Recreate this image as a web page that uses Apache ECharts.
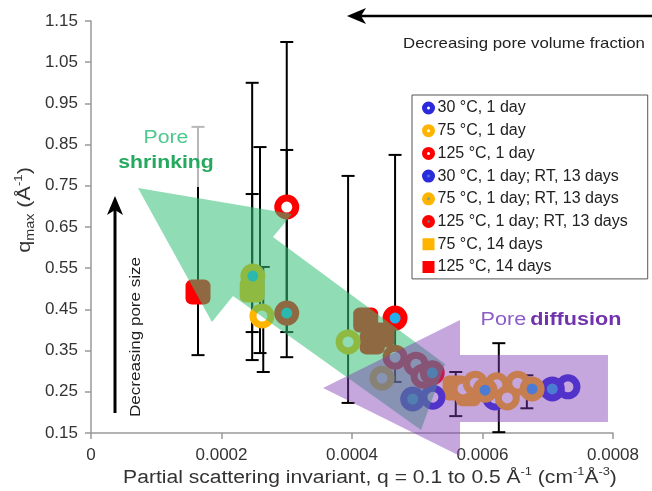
<!DOCTYPE html>
<html><head><meta charset="utf-8">
<script src="https://cdn.jsdelivr.net/npm/echarts@6/dist/echarts.min.js"></script>
<style>html,body{margin:0;padding:0;background:#fff}#c{width:652px;height:491px}</style>
</head><body><div id="c"></div>
<script>
// ---------- data ----------
const seriesNames = ['30 °C, 1 day','75 °C, 1 day','125 °C, 1 day','30 °C, 1 day; RT, 13 days','75 °C, 1 day; RT, 13 days','125 °C, 1 day; RT, 13 days','75 °C, 14 days','125 °C, 14 days'];
const blue1dX = [0.000524, 0.000619, 0.000731];
const blue1dY = [0.237, 0.235, 0.262];
const orange1dX = [0.000262, 0.000394, 0.000446, 0.000570, 0.000589, 0.000622, 0.000654, 0.000638];
const orange1dY = [0.434, 0.371, 0.283, 0.257, 0.271, 0.267, 0.271, 0.235];
const red1dX = [0.000300, 0.000466, 0.000498, 0.000509];
const red1dY = [0.6985, 0.334, 0.317, 0.288];
const blueRTX = [0.000493, 0.000707];
const blueRTY = [0.2325, 0.257];
const orangeRTX = [0.000248, 0.000604, 0.000676];
const orangeRTY = [0.531, 0.254, 0.257];
const redRTX = [0.000300, 0.000466, 0.000523];
const redRTY = [0.441, 0.429, 0.296];
const orange14X = [0.000247, 0.000558, 0.000578];
const orange14Y = [0.497, 0.259, 0.245];
const red14X = [0.000164, 0.000421, 0.000431, 0.000446];
const red14Y = [0.492, 0.424, 0.371, 0.388];
// error bars
const errX    = [0.000164, 0.000247, 0.000247, 0.000259, 0.000264, 0.000300, 0.000300, 0.000394, 0.000466, 0.000559, 0.000625, 0.000668];
const errHigh = [0.893, 1.000, 0.730, 0.844, 0.553, 1.099, 0.837, 0.774, 0.825, 0.298, 0.368, 0.290];
const errLow  = [0.339, 0.327, 0.395, 0.344, 0.298, 0.334, 0.395, 0.223, 0.274, 0.191, 0.152, 0.210];
// annotation arrows (data units)
const greenArrow = [[0.0000720,0.7447],[0.0003081,0.6816],[0.0002789,0.6257],[0.0005425,0.3175],[0.0005058,0.1573],[0.0002176,0.4825],[0.0001854,0.4194]];
const purpleArrow = [[0.0003556,0.2592],[0.0005655,0.4243],[0.0005655,0.3393],[0.0007923,0.3393],[0.0007923,0.1767],[0.0005655,0.1767],[0.0005655,0.0942]];
// axes
const xMin = 0, xMax = 0.0008, xStep = 0.0002;
const yMin = 0.15, yMax = 1.15, yStep = 0.1;

// ---------- styles ----------
const BLUE = '#2b2bdc', ORANGE = '#ffb400', RED = '#ff0000', CYAN = '#22b0ee';
const FONT = 'Liberation Sans';
const chart = echarts.init(document.getElementById('c'));
const pairs = (xs, ys) => xs.map((x, i) => [x, ys[i]]);
function ring(name, xs, ys, c, fill) {
  return { name, type: 'scatter', z: 5, silent: true, symbol: 'circle', symbolSize: 18,
    itemStyle: { color: fill, borderColor: c, borderWidth: 7, opacity: 1 },
    data: pairs(xs, ys) };
}
function square(name, xs, ys, c) {
  return { name, type: 'scatter', z: 5, silent: true, symbol: 'roundRect', symbolSize: 25,
    itemStyle: { color: c, opacity: 1 }, data: pairs(xs, ys) };
}
function poly(name, pts, fill, z) {
  return { name, type: 'custom', coordinateSystem: 'cartesian2d', z, silent: true, clip: false,
    data: [[0, 0.5]], encode: { x: 0, y: 1 },
    renderItem: (p, api) => ({ type: 'polygon', shape: { points: pts.map(q => api.coord(q)) }, style: { fill } }) };
}
const lg = (name, icon, color, border, bw) => ({ name, icon, itemStyle: { color, borderColor: border, borderWidth: bw } });

const option = {
  animation: false,
  grid: { left: 91, right: 39, top: 21, bottom: 58 },
  xAxis: { type: 'value', min: xMin, max: xMax, interval: xStep,
    axisLine: { lineStyle: { color: '#999', width: 1.5 } },
    axisTick: { show: true, length: 6, lineStyle: { color: '#999', width: 1.5 } },
    splitLine: { show: false },
    axisLabel: { margin: 14, fontFamily: FONT, fontSize: 17, color: '#333',
      formatter: v => v === 0 ? '0' : v.toFixed(4) } },
  yAxis: { type: 'value', min: yMin, max: yMax, interval: yStep,
    axisLine: { show: true, lineStyle: { color: '#999', width: 1.5 } },
    axisTick: { show: true, length: 6, lineStyle: { color: '#999', width: 1.5 } },
    splitLine: { show: false },
    axisLabel: { margin: 13, fontFamily: FONT, fontSize: 17, color: '#333', formatter: v => v.toFixed(2) } },
  legend: {
    orient: 'vertical', left: 412, top: 95, z: 20,
    padding: [5, 20, 4, 10], itemWidth: 8, itemHeight: 8, itemGap: 6.7,
    borderColor: '#555', borderWidth: 1, backgroundColor: '#fff',
    selectedMode: false,
    textStyle: { fontFamily: FONT, fontSize: 16, color: '#222', lineHeight: 16 },
    data: [
      lg(seriesNames[0], 'circle', '#fff', BLUE, 5),
      lg(seriesNames[1], 'circle', '#fff', ORANGE, 5),
      lg(seriesNames[2], 'circle', '#fff', RED, 5),
      lg(seriesNames[3], 'circle', '#3d7bd8', BLUE, 5),
      lg(seriesNames[4], 'circle', '#7f9f9a', ORANGE, 5),
      lg(seriesNames[5], 'circle', '#6d6d7a', RED, 5),
      lg(seriesNames[6], 'rect', ORANGE, ORANGE, 4),
      lg(seriesNames[7], 'rect', RED, RED, 4)
    ]
  },
  series: [
    { name: 'err', type: 'custom', z: 3, silent: true,
      data: errX.map((x, i) => [x, errLow[i], errHigh[i]]), encode: { x: 0, y: [1, 2] },
      renderItem: (p, api) => {
        const x = api.value(0), a = api.coord([x, api.value(1)]), b = api.coord([x, api.value(2)]), w = 6.5;
        const st = { stroke: '#000', lineWidth: 2 };
        return { type: 'group', children: [
          { type: 'line', shape: { x1: a[0], y1: a[1], x2: b[0], y2: b[1] }, style: st },
          { type: 'line', shape: { x1: a[0] - w, y1: a[1], x2: a[0] + w, y2: a[1] }, style: st },
          { type: 'line', shape: { x1: b[0] - w, y1: b[1], x2: b[0] + w, y2: b[1] }, style: st } ] };
      } },
    square(seriesNames[6], orange14X, orange14Y, ORANGE),
    square(seriesNames[7], red14X, red14Y, RED),
    ring(seriesNames[0], blue1dX, blue1dY, BLUE, '#fff'),
    ring(seriesNames[3], blueRTX, blueRTY, BLUE, CYAN),
    ring(seriesNames[1], orange1dX, orange1dY, ORANGE, '#fff'),
    ring(seriesNames[4], orangeRTX, orangeRTY, ORANGE, CYAN),
    ring(seriesNames[2], red1dX, red1dY, RED, '#fff'),
    ring(seriesNames[5], redRTX, redRTY, RED, CYAN),
    poly('shrink', greenArrow, 'rgba(51,191,120,0.55)', 10),
    poly('diffuse', purpleArrow, 'rgba(128,60,180,0.45)', 11)
  ],
  graphic: [
    { type: 'rect', z: 50, shape: { x: 116, y: 118, width: 100, height: 69 }, style: { fill: 'rgba(255,255,255,0.72)' } },
    { type: 'text', z: 60, x: 166, y: 138, scaleX: 1.18, style: { text: 'Pore', fontFamily: FONT, fontSize: 18, fill: '#4cc98c', align: 'center', verticalAlign: 'middle' } },
    { type: 'text', z: 60, x: 166, y: 163, scaleX: 1.18, style: { text: 'shrinking', fontFamily: FONT, fontSize: 18, fontWeight: 'bold', fill: '#25a95e', align: 'center', verticalAlign: 'middle' } },
    { type: 'text', z: 60, x: 551, y: 320, scaleX: 1.2, style: { text: '{a|Pore} {b|diffusion}', align: 'center', verticalAlign: 'middle',
      rich: { a: { fontFamily: FONT, fontSize: 18, fill: '#8d5cc6' }, b: { fontFamily: FONT, fontSize: 18, fontWeight: 'bold', fill: '#7133ad' } } } },
    { type: 'line', z: 60, shape: { x1: 360, y1: 16, x2: 660, y2: 16 }, style: { stroke: '#000', lineWidth: 2.5 } },
    { type: 'polygon', z: 60, shape: { points: [[347, 16], [366, 8], [361, 16], [366, 24]] }, style: { fill: '#000' } },
    { type: 'text', z: 60, x: 524, y: 44, scaleX: 1.12, style: { text: 'Decreasing pore volume fraction', fontFamily: FONT, fontSize: 15, fill: '#222', align: 'center', verticalAlign: 'middle' } },
    { type: 'line', z: 60, shape: { x1: 115, y1: 208, x2: 115, y2: 413 }, style: { stroke: '#000', lineWidth: 3 } },
    { type: 'polygon', z: 60, shape: { points: [[115, 196], [107, 215], [115, 210], [123, 215]] }, style: { fill: '#000' } },
    { type: 'text', z: 60, x: 136, y: 337, rotation: Math.PI / 2, scaleX: 1.1, style: { text: 'Decreasing pore size', fontFamily: FONT, fontSize: 15.5, fill: '#222', align: 'center', verticalAlign: 'middle' } },
    { type: 'text', z: 60, x: 25, y: 210, rotation: Math.PI / 2, scaleX: 1.2, style: { text: '{n|q}{s|max}{n| (Å}{p|-1}{n|)}', align: 'center', verticalAlign: 'middle',
      rich: { n: { fontFamily: FONT, fontSize: 18, fill: '#333', lineHeight: 24 }, s: { fontFamily: FONT, fontSize: 12, fill: '#333', lineHeight: 12, verticalAlign: 'bottom' }, p: { fontFamily: FONT, fontSize: 11, fill: '#333', lineHeight: 14, verticalAlign: 'top' } } } },
    { type: 'text', z: 60, x: 370, y: 478, scaleX: 1.17, style: { text: '{n|Partial scattering invariant, q = 0.1 to 0.5 Å}{p|-1}{n| (cm}{p|-1}{n|Å}{p|-3}{n|)}', align: 'center', verticalAlign: 'middle',
      rich: { n: { fontFamily: FONT, fontSize: 18, fill: '#333', lineHeight: 24 }, p: { fontFamily: FONT, fontSize: 11, fill: '#333', lineHeight: 14, verticalAlign: 'top' } } } }
  ]
};
chart.setOption(option);
</script></body></html>
